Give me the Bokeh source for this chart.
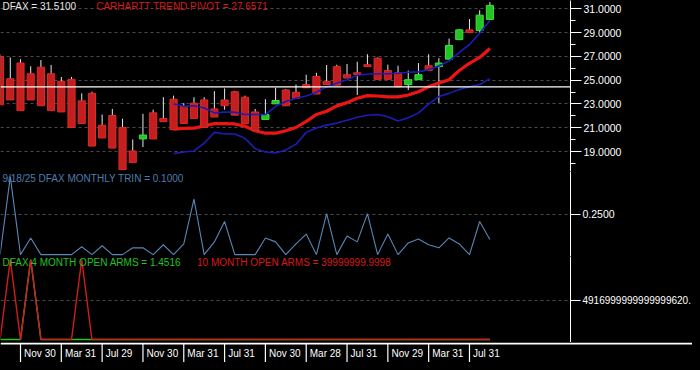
import numpy as np
from bokeh.plotting import figure
from bokeh.models import (Range1d, FixedTicker, PrintfTickFormatter, CustomJSTickFormatter,
                          Span, Label, ColumnDataSource, GlobalInlineStyleSheet)
from bokeh.layouts import column
from bokeh.embed import file_html
from bokeh.resources import INLINE
from bokeh.core.properties import value

# ---------------- data (monthly bars, Sep 2021 .. Sep 2025) ----------------
opens = [26.99, 25.13, 26.44, 25.54, 26.09, 25.54, 24.90, 25.07, 23.26, 23.89,
         21.21, 22.03, 21.02, 19.05, 20.06, 22.25, 21.78, 23.40, 22.80, 23.07,
         23.34, 22.58, 23.34, 24.03, 23.57, 22.33, 21.70, 23.01, 24.17, 23.98,
         24.63, 25.32, 24.90, 26.14, 25.46, 25.62, 26.30, 26.85, 25.81, 25.62,
         24.63, 25.04, 26.22, 26.14, 26.77, 28.41, 29.23, 29.18, 30.11]
closes = [22.93, 23.34, 22.44, 23.34, 22.85, 22.44, 22.33, 21.02, 21.35, 19.46,
          20.14, 19.29, 17.48, 18.08, 20.39, 20.06, 21.51, 20.83, 21.35, 21.78,
          21.02, 21.90, 22.85, 22.06, 21.35, 20.75, 22.11, 23.29, 22.85, 23.48,
          24.36, 23.84, 24.63, 24.58, 25.18, 25.48, 26.14, 25.07, 25.07, 24.44,
          25.04, 25.46, 25.81, 26.44, 27.92, 29.23, 29.01, 30.47, 31.29]
highs = [27.18, 26.91, 26.77, 26.17, 26.69, 26.28, 25.27, 25.27, 23.89, 24.03,
         22.11, 22.58, 21.76, 20.01, 22.17, 22.52, 23.57, 23.70, 23.07, 23.57,
         23.57, 24.08, 24.30, 24.10, 23.70, 22.58, 23.40, 24.36, 24.25, 24.63,
         25.46, 25.62, 26.28, 26.30, 26.36, 26.55, 27.18, 26.91, 26.30, 26.22,
         25.81, 26.44, 27.18, 26.85, 28.50, 29.30, 30.14, 30.88, 31.56]
lows = [22.93, 23.34, 22.44, 23.34, 22.85, 22.44, 22.33, 21.02, 21.35, 19.46,
        20.14, 19.29, 17.48, 18.08, 19.37, 20.06, 21.51, 20.83, 21.35, 21.78,
        21.02, 21.90, 22.52, 22.06, 21.35, 20.75, 21.70, 23.01, 22.85, 23.48,
        24.36, 23.84, 24.63, 24.58, 25.18, 23.75, 26.14, 25.07, 25.07, 24.44,
        24.17, 25.04, 25.81, 23.07, 26.77, 28.41, 29.01, 28.96, 30.11]

NA = float("nan")
trend_pivot = [NA] * 17 + [20.88, 20.94, 20.96, 21.16, 21.35, 21.35, 21.32, 21.12,
                           20.75, 20.54, 20.54, 20.75, 21.02, 21.54, 22.11, 22.39,
                           22.84, 23.11, 23.48, 23.70, 23.67, 23.59, 23.59, 23.75,
                           24.03, 24.44, 24.77, 25.04, 25.81, 26.42, 26.91, 27.66]
upper_band = [NA] * 17 + [22.99, 22.80, 22.85, 22.66, 22.25, 22.31, 22.31, 22.11,
                          22.11, 22.11, 22.80, 23.21, 23.48, 23.67, 23.98, 24.44,
                          24.75, 25.04, 25.41, 25.50, 25.54, 25.54, 25.58, 25.66,
                          25.70, 25.87, 26.19, 26.61, 27.34, 28.00, 28.95, 30.02]
lower_band = [NA] * 17 + [18.82, 18.96, 19.05, 19.70, 20.61, 20.48, 20.47, 20.11,
                          19.24, 18.96, 18.88, 19.13, 19.62, 20.61, 20.98, 21.22,
                          21.39, 21.63, 21.88, 22.05, 22.11, 21.92, 21.57, 21.84,
                          22.25, 22.99, 23.62, 23.89, 24.22, 24.44, 24.63, 25.13]
level_line = 24.44

trin = [0.011, 0.47, 0.011, 0.109, 0.011, 0.011, 0.011, 0.011, 0.057, 0.011,
        0.063, 0.011, 0.011, 0.051, 0.051, 0.011, 0.069, 0.011, 0.074, 0.338,
        0.011, 0.086, 0.206, 0.011, 0.011, 0.011, 0.109, 0.086, 0.011, 0.074,
        0.132, 0.011, 0.252, 0.011, 0.120, 0.086, 0.252, 0.011, 0.132, 0.011,
        0.080, 0.103, 0.069, 0.051, 0.109, 0.074, 0.011, 0.206, 0.100]

BIG = 1.0e19
arms_4m = [1.4516, 1.4516, 1.4516, BIG] + [1.4516] * 45
arms_10m = [4.0e7, BIG, 4.0e7, BIG, 4.0e7, 4.0e7, 4.0e7, 4.0e7, BIG] + [4.0e7] * 40

date_labels = ["Nov 30", "Mar 31", "Jul 29", "Nov 30", "Mar 31", "Jul 31",
               "Nov 30", "Mar 28", "Jul 31", "Nov 29", "Mar 31", "Jul 31"]
date_label_bars = [2, 6, 10, 14, 18, 22, 26, 30, 34, 38, 42, 46]

price_ticks = [19, 21, 23, 25, 27, 29, 31]
price_minor_ticks = [18, 20, 22, 24, 26, 28, 30]
trin_ticks = [0.0, 0.25]
arms_ticks = [4.917e18]
arms_tick_text = "4916999999999999620."

price_text = "DFAX = 31.5100"
pivot_text = "CARHARTT TREND PIVOT = 27.6571"
trin_text = "9/18/25  DFAX MONTHLY TRIN = 0.1000"
arms4_text = "DFAX 4 MONTH OPEN ARMS = 1.4516"
arms10_text = "10 MONTH OPEN ARMS = 39999999.9998"

# ---------------- layout ----------------
FW = 570
RB = 122
X0, X1 = 0.04, 55.9
FONT = "Liberation Sans"
xr = Range1d(X0, X1)

n = len(opens)
xs = list(range(n))


def panel(h, yr):
    p = figure(frame_width=FW, frame_height=h, x_range=xr, y_range=yr,
               output_backend="svg", toolbar_location=None,
               x_axis_location=None, y_axis_location="right",
               min_border_left=0, min_border_right=RB, min_border_top=0, min_border_bottom=0,
               background_fill_color="black", border_fill_color="black",
               outline_line_color=None)
    p.xgrid.visible = False
    p.ygrid.grid_line_color = "#4a4a4a"
    p.ygrid.grid_line_dash = "3 3"
    ax = p.yaxis[0]
    ax.axis_line_color = "white"
    ax.major_tick_line_color = "white"
    ax.minor_tick_line_color = "white"
    ax.major_tick_in = 0
    ax.major_tick_out = 11
    ax.minor_tick_in = 0
    ax.minor_tick_out = 5
    ax.major_label_text_color = "white"
    ax.major_label_text_font = FONT
    ax.major_label_text_font_size = "10.5px"
    ax.major_label_standoff = 2
    return p


def add_label(p, x, y, text, color):
    p.add_layout(Label(x=x, y=y, text=text, text_color=color, text_font=FONT,
                       text_font_size="10px", text_baseline="middle", text_align="left"))


# ---- price panel ----
p1 = panel(171, Range1d(17.32, 31.70))
p1.yaxis[0].ticker = FixedTicker(ticks=price_ticks, minor_ticks=price_minor_ticks)
p1.yaxis[0].formatter = PrintfTickFormatter(format="%.4f")

up = [c > o for o, c in zip(opens, closes)]
src = ColumnDataSource(dict(
    x=xs, high=highs, low=lows,
    top=[max(o, c) for o, c in zip(opens, closes)],
    bottom=[min(o, c) for o, c in zip(opens, closes)],
    fill=["#22c322" if u else "#c41e1e" for u in up],
    edge=["#3ee03e" if u else "#e02a2a" for u in up],
))
p1.add_layout(Span(location=level_line, dimension="width", line_color="white", line_width=1.2))
p1.segment(x0="x", y0="high", x1="x", y1="low", source=src, line_color="#e8e8e8", line_width=1)
p1.line(xs, lower_band, line_color="#1c1cb8", line_width=1.6)
p1.line(xs, trend_pivot, line_color="#ee1414", line_width=3.2)
p1.vbar(x="x", width=0.7, top="top", bottom="bottom", source=src,
        fill_color="fill", line_color="edge", line_width=1)
p1.line(xs, upper_band, line_color="#1c1cb8", line_width=1.6)

add_label(p1, 0.23, 31.17, price_text, "#e6e6e6")
add_label(p1, 9.42, 31.17, pivot_text, "#d81818")

# ---- TRIN panel ----
p2 = panel(85, Range1d(0.0, 0.5))
p2.yaxis[0].ticker = FixedTicker(ticks=trin_ticks)
p2.yaxis[0].major_tick_out = 10
p2.yaxis[0].formatter = CustomJSTickFormatter(code="return tick > 0.001 ? tick.toFixed(4) : '';")
p2.line(xs, trin, line_color="#5a86b6", line_width=1.1)
add_label(p2, 0.23, 0.4615, trin_text, "#4f7cae")

# ---- ARMS panel ----
p3 = panel(86, Range1d(-3.66e17, 1.0371e19))
p3.yaxis[0].ticker = FixedTicker(ticks=arms_ticks)
p3.yaxis[0].major_tick_out = 10
p3.yaxis[0].major_label_text_font_size = "10px"
p3.yaxis[0].formatter = CustomJSTickFormatter(args=dict(lbl=arms_tick_text), code="return lbl;")
p3.line(xs, arms_4m, line_color="#22c322", line_width=1.4)
p3.line(xs, arms_10m, line_color="#d21c1c", line_width=1.4)
add_label(p3, 0.23, 9.60e18, arms4_text, "#22c322")
add_label(p3, 19.3, 9.60e18, arms10_text, "#d81818")

# ---- date strip ----
SW = FW + RB
p4 = figure(frame_width=SW, frame_height=20,
            x_range=Range1d(X0, X0 + (X1 - X0) * SW / FW), y_range=Range1d(0, 20),
            output_backend="svg", toolbar_location=None,
            x_axis_location=None, y_axis_location=None,
            min_border_left=0, min_border_right=0, min_border_top=0, min_border_bottom=0,
            background_fill_color="black", border_fill_color="black", outline_line_color=None)
p4.grid.visible = False
p4.add_layout(Span(location=19, dimension="width", line_color="white", line_width=2))
p4.segment(x0=date_label_bars, y0=[0] * len(date_label_bars),
           x1=date_label_bars, y1=[19] * len(date_label_bars),
           line_color="white", line_width=1.2)
p4.text(x=[b + 0.35 for b in date_label_bars], y=[9] * len(date_label_bars), text=date_labels,
        text_font=value(FONT), text_font_size=value("10px"), text_color="white",
        text_align="left", text_baseline="middle")

layout = column(p1, p2, p3, p4, spacing=0,
                stylesheets=[GlobalInlineStyleSheet(css="body { background: #000000; }")])

open("out.html", "w").write(file_html(layout, INLINE))
